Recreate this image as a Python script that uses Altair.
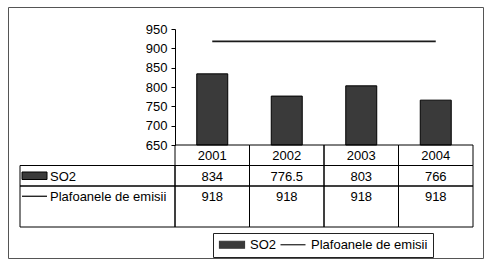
import altair as alt
import pandas as pd

# ---- data ----
years = ["2001", "2002", "2003", "2004"]
so2 = [834, 776.5, 803, 766]
plafon = [918, 918, 918, 918]
series_names = ["SO2", "Plafoanele de emisii"]
y_ticks = [650, 700, 750, 800, 850, 900, 950]
row_names = ["year", "SO2", "Plaf", "pad"]

# ---- layout / style ----
FONT = "Liberation Sans"
FS = 13
W, H = 475, 251
PLOT_X = [167, 465]
PLOT_Y = [138, 22]
TABLE_Y = [138, 220]
LABEL_COL = [12, 167]

bar_df = pd.DataFrame({"year": years, "value": so2, "series": series_names[0]})
line_df = pd.DataFrame({"year": years, "value": plafon, "series": series_names[1]})

fmt = lambda v: f"{v:g}"
table_df = pd.DataFrame({
    "year": years * 3,
    "row": ["year"] * 4 + ["SO2"] * 4 + ["Plaf"] * 4,
    "row_end": ["year"] * 4 + ["SO2"] * 4 + ["pad"] * 4,
    "text": years + [fmt(v) for v in so2] + [fmt(v) for v in plafon],
})
label_df = pd.DataFrame({
    "row": ["SO2", "Plaf"],
    "row_end": ["SO2", "pad"],
    "label": series_names,
})

xscale = alt.Scale(domain=years, range=PLOT_X, paddingInner=0, paddingOuter=0)
yscale = alt.Scale(domain=[650, 950], range=PLOT_Y, nice=False, zero=False)
tscale = alt.Scale(domain=row_names, range=TABLE_Y, paddingInner=0, paddingOuter=0)
cscale = alt.Scale(domain=series_names, range=["#3a3a3a", "#1a1a1a"])

RECT_PATH = "M-1,-0.7H4V0.7H-1Z"
LINE_PATH = "M-1,0H4"

legend = alt.Legend(
    title=None, orient="none", legendX=205, legendY=226, direction="horizontal",
    symbolType={"expr": f"datum.value == 'SO2' ? '{RECT_PATH}' : '{LINE_PATH}'"},
    symbolSize=100, symbolStrokeColor="black", symbolStrokeWidth=1.2,
    symbolFillColor={"expr": "datum.value == 'SO2' ? '#3a3a3a' : 'transparent'"},
    labelFont=FONT, labelFontSize=FS, labelColor="black", labelOffset=19,
    columnPadding=1, padding=5, strokeColor="#222",
)

yaxis = alt.Axis(
    values=y_ticks, offset=-PLOT_X[0], tickSize=4, tickColor="black",
    domainColor="black", labelFont=FONT, labelFontSize=FS, labelColor="black",
    labelPadding=4, grid=False, title=None,
)

xenc = alt.X("year:N", scale=xscale, axis=None)

bars = alt.Chart(bar_df).mark_bar(
    stroke="black", strokeWidth=1, width=alt.RelativeBandSize(0.416)
).encode(
    x=xenc,
    y=alt.Y("value:Q", scale=yscale, axis=yaxis),
    y2=alt.datum(650),
    color=alt.Color("series:N", scale=cscale, legend=legend),
)

line = alt.Chart(line_df).mark_line(strokeWidth=1.8).encode(
    x=xenc,
    y=alt.Y("value:Q", scale=yscale, axis=yaxis),
    color=alt.Color("series:N", scale=cscale, legend=legend),
)

top = alt.layer(bars, line)

ty = alt.Y("row:N", scale=tscale, axis=None, bandPosition=0)
ty2 = alt.Y2("row_end", bandPosition=1)

cells = alt.Chart(table_df).mark_rect(
    fillOpacity=0, stroke="black", strokeWidth=1
).encode(x=xenc, y=ty, y2=ty2)

label_cells = alt.Chart(label_df).mark_rect(
    fillOpacity=0, stroke="black", strokeWidth=1
).encode(x=alt.value(LABEL_COL[0]), x2=alt.value(LABEL_COL[1]), y=ty, y2=ty2)

ytxt = alt.Y("row:N", scale=tscale, axis=None)

cell_text = alt.Chart(table_df).mark_text(
    font=FONT, fontSize=FS, color="black", dy=1
).encode(x=xenc, y=ytxt, text="text:N")

label_text = alt.Chart(label_df).mark_text(
    font=FONT, fontSize=FS, color="black", align="left", dy=1
).encode(x=alt.value(42), y=ytxt, text="label:N")

sym_rect = alt.Chart(label_df.iloc[[0]]).mark_point(
    shape="M-1,-0.3H1V0.3H-1Z", size=625, filled=True, fill="#3a3a3a",
    stroke="black", strokeWidth=1, opacity=1
).encode(x=alt.value(26.5), y=ytxt)

sym_line = alt.Chart(label_df.iloc[[1]]).mark_point(
    shape="M-1,0H1", size=625, filled=False, stroke="black",
    strokeWidth=1.2, opacity=1
).encode(x=alt.value(26.5), y=ytxt)

table = alt.layer(cells, label_cells, cell_text, label_text, sym_rect, sym_line)

chart = alt.layer(top, table).resolve_scale(y="independent").properties(
    width=W, height=H,
    padding={"left": 8, "top": 7, "right": 9, "bottom": 7},
    autosize=alt.AutoSizeParams(type="none"),
).configure_view(stroke="#555", strokeWidth=1)

chart.save("out.html", embed_options={"renderer": "svg", "actions": False})
